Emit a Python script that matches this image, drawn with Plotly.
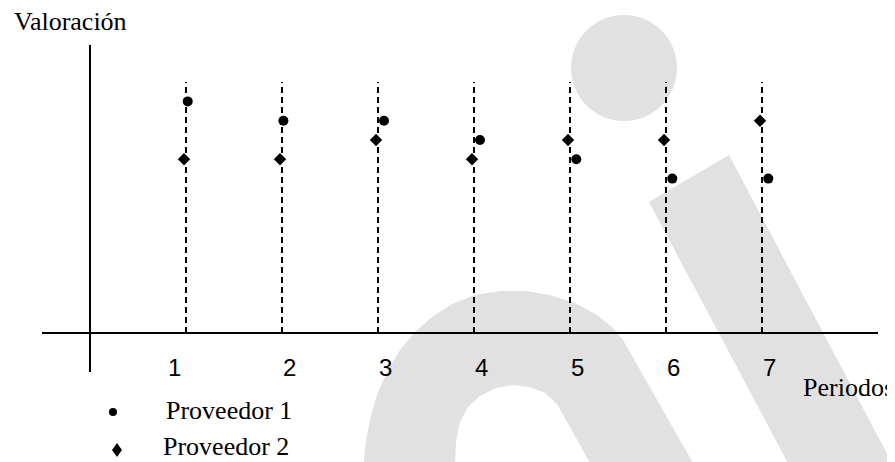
import plotly.graph_objects as go

# ---------------- data ----------------
periods = [1, 2, 3, 4, 5, 6, 7]
tick_labels = ["1", "2", "3", "4", "5", "6", "7"]
proveedor_1 = [12, 11, 11, 10, 9, 8, 8]
proveedor_2 = [9, 9, 10, 9, 10, 10, 11]
series_names = ["Proveedor 1", "Proveedor 2"]
x_title = "Periodos"
y_title = "Valoración"

# ---------------- style / layout ----------------
PAGE_W, PAGE_H = 895, 462
OFF = 8                              # default page margin around the plot div
W, H = PAGE_W - OFF, PAGE_H - OFF
guide_top = 13                       # height of the dashed guides
px_per_x = 96.0                      # pixels per period
px_per_y = 19.3                      # pixels per valuation unit
p1_nudge_px = [1.7, 1.4, 6, 6, 6.3, 6.3, 6.3]
p2_nudge_px = -2
label_nudge_px = [-12, 7, 7, 7, 7, 7, 7]
legend_text_pos = [(164, 410), (161, 446)]
GREY = "#e1e1e1"
SERIF = "Liberation Serif, Times New Roman, serif"
SANS = "Liberation Sans, Arial, sans-serif"


def px(x, y):
    """page pixel -> paper coordinates"""
    return (x - OFF) / W, 1 - (y - OFF) / H


def path(points, close=True):
    s = ""
    for i, (x, y) in enumerate(points):
        a, b = px(x, y)
        s += ("M" if i == 0 else "L") + f"{a:.5f},{b:.5f} "
    return s + ("Z" if close else "")


fig = go.Figure()

# dashed guides
gx, gy = [], []
for p in periods:
    gx += [p, p, None]
    gy += [0, guide_top, None]
fig.add_trace(go.Scatter(x=gx, y=gy, mode="lines", showlegend=False, hoverinfo="skip",
                         line=dict(color="black", width=2, dash="6px,4px")))

fig.add_trace(go.Scatter(
    x=[p + d / px_per_x for p, d in zip(periods, p1_nudge_px)], y=proveedor_1,
    mode="markers", name=series_names[0], showlegend=False,
    marker=dict(symbol="circle", size=10, color="black")))
fig.add_trace(go.Scatter(
    x=[p + p2_nudge_px / px_per_x for p in periods], y=proveedor_2,
    mode="markers", name=series_names[1], showlegend=False,
    marker=dict(symbol="diamond", size=9.5, color="black")))

# watermark shapes
shapes = []
cx0, cy0 = px(624 - 53, 68 + 53)
cx1, cy1 = px(624 + 53, 68 - 53)
shapes.append(dict(type="circle", xref="paper", yref="paper", x0=cx0, y0=cy0, x1=cx1, y1=cy1,
                   fillcolor=GREY, line=dict(width=0), layer="below"))
band = [(649, 202), (729, 155), (901, 480), (797, 480)]
shapes.append(dict(type="path", xref="paper", yref="paper", path=path(band),
                   fillcolor=GREY, line=dict(width=0), layer="below"))
arch = [(363, 470), (366, 440), (371, 415), (378, 392), (388, 370), (400, 350), (415, 332),
        (432, 317), (452, 304), (475, 295), (500, 291), (525, 291), (550, 295), (575, 303),
        (597, 315), (612, 327), (623, 340), (697, 470),
        (594, 470), (557, 404), (545, 393), (530, 387), (513, 385), (496, 388), (480, 396),
        (468, 407), (460, 422), (456, 442), (455, 470)]
shapes.append(dict(type="path", xref="paper", yref="paper", path=path(arch),
                   fillcolor=GREY, line=dict(width=0), layer="below"))

# legend keys
lx0, ly0 = px(113 - 4, 412 + 4)
lx1, ly1 = px(113 + 4, 412 - 4)
shapes.append(dict(type="circle", xref="paper", yref="paper", x0=lx0, y0=ly0, x1=lx1, y1=ly1,
                   fillcolor="black", line=dict(width=0)))
shapes.append(dict(type="path", xref="paper", yref="paper",
                   path=path([(117, 443), (122, 450), (117, 457), (112, 450)]),
                   fillcolor="black", line=dict(width=0)))

annotations = []
for p, t, d in zip(periods, tick_labels, label_nudge_px):
    annotations.append(dict(x=p, xref="x", y=px(0, 367)[1], yref="paper", text=t,
                            showarrow=False, xshift=d, xanchor="center", yanchor="middle",
                            font=dict(family=SANS, size=24, color="black")))
annotations.append(dict(x=px(801, 0)[0], y=px(0, 387)[1], xref="paper", yref="paper",
                        text=x_title, showarrow=False, xanchor="left", yanchor="middle",
                        font=dict(family=SERIF, size=26, color="black")))
annotations.append(dict(x=px(12, 0)[0], y=px(0, 21)[1], xref="paper", yref="paper",
                        text=y_title, showarrow=False, xanchor="left", yanchor="middle",
                        font=dict(family=SERIF, size=26, color="black")))
for name, (tx, ty) in zip(series_names, legend_text_pos):
    annotations.append(dict(x=px(tx, 0)[0], y=px(0, ty)[1], xref="paper", yref="paper",
                            text=name, showarrow=False, xanchor="left", yanchor="middle",
                            font=dict(family=SERIF, size=26, color="black")))

axis_common = dict(showgrid=False, showticklabels=False, ticks="", showline=False,
                   zeroline=True, zerolinecolor="black", zerolinewidth=2, fixedrange=True)
fig.update_layout(
    width=W, height=H, margin=dict(l=0, r=0, t=0, b=0),
    paper_bgcolor="white", plot_bgcolor="rgba(0,0,0,0)",
    xaxis=dict(range=[-0.5, (878 - 90) / px_per_x],
               domain=[px(42, 0)[0], px(878, 0)[0]], **axis_common),
    yaxis=dict(range=[-(372 - 333) / px_per_y, (333 - 45) / px_per_y],
               domain=[px(0, 372)[1], px(0, 45)[1]], **axis_common),
    shapes=shapes, annotations=annotations, showlegend=False,
)

fig.write_html("out.html")
